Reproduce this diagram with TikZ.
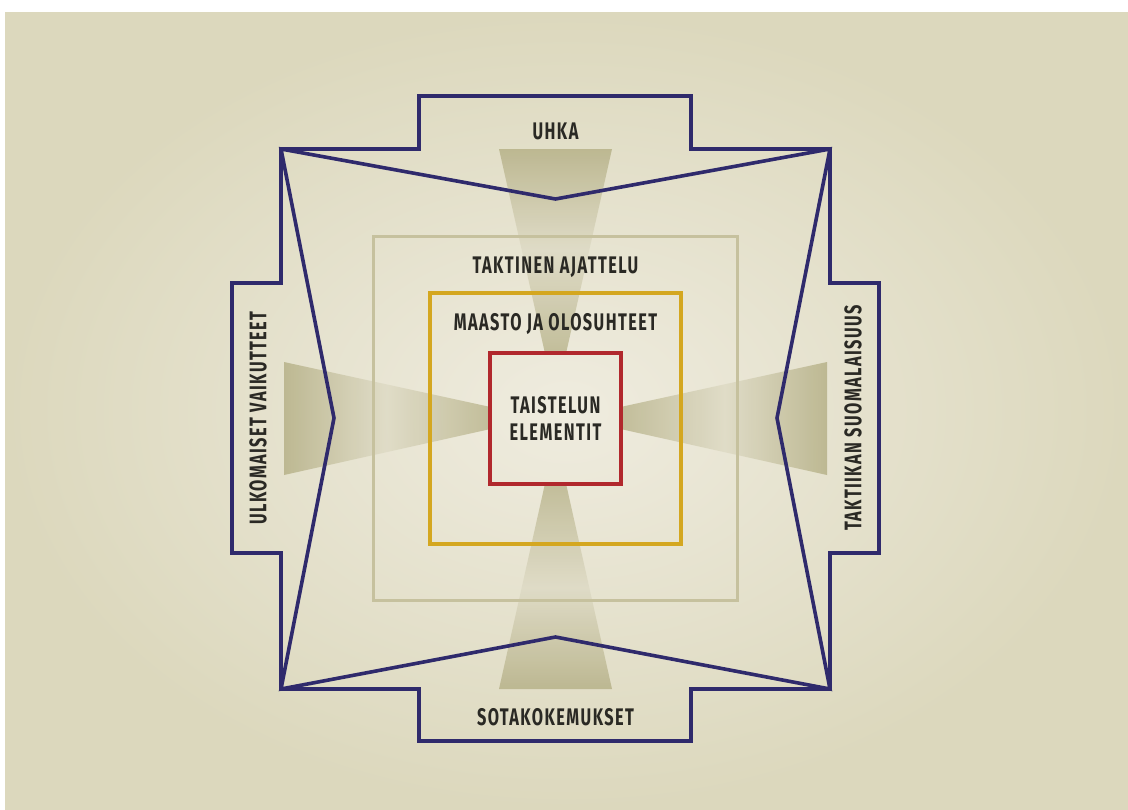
\documentclass[tikz,border=0pt]{standalone}
\usepackage{fontspec}
\setmainfont{Fira Sans}[FakeStretch=0.68, LetterSpace=6]
\usetikzlibrary{calc, backgrounds, positioning}
\definecolor{bgout}{HTML}{DCD8BD}
\definecolor{bgin}{HTML}{EFECDF}
\definecolor{navy}{HTML}{2F2A6C}
\definecolor{gold}{HTML}{D4A720}
\definecolor{crimson}{HTML}{B1282D}
\definecolor{sand}{HTML}{C6C19E}
\definecolor{cone}{HTML}{B9B48C}
\definecolor{ink}{HTML}{2A2924}
\tikzset{
  label text/.style={text=ink, font=\fontsize{12}{13.5}\selectfont\bfseries, align=center, inner sep=1pt},
  frame/.style={draw=navy, line width=1.8pt, line join=miter},
  box/.style={line width=1.8pt, minimum size=#1, inner sep=0pt}
}

\begin{document}
\begin{tikzpicture}[x=0.5pt, y=-0.5pt]
		\useasboundingbox (0,0) rectangle (1128,809);
		
		\node(core) [box=65.5pt, draw=crimson, label text] at (555.5,418.5) {TAISTELUN\\ELEMENTIT};
		\node(terrain) [box=125.5pt, draw=gold] at (555.5,418.5) {};
		\node(thinking) [box=182pt, draw=sand, line width=1.5pt] at (555.5,418.5) {};
		\node(terrainlbl) [label text] at ($(terrain.north)+(0,33)$) {MAASTO JA OLOSUHTEET};
		\node(thinkinglbl) [label text] at ($(thinking.north)+(0,32)$) {TAKTINEN AJATTELU};
		
		\coordinate (tl) at (281,149);
		\coordinate (tr) at (830,149);
		\coordinate (bl) at (281,689);
		\coordinate (br) at (830,689);
		\coordinate (vt) at (555.5,199);
		\coordinate (vb) at (555.5,637);
		\coordinate (vl) at (334,418);
		\coordinate (vr) at (777,418);
		
		\node(threat) [label text] at (555.5,131) {UHKA};
		\node(warexp) [label text] at (555.5,717) {SOTAKOKEMUKSET};
		\node(foreign) [label text, rotate=90] at (258,418) {ULKOMAISET VAIKUTTEET};
		\node(finnish) [label text, rotate=90] at (853,418) {TAKTIIKAN SUOMALAISUUS};
		
		\begin{scope}[on background layer]
		\fill[white] (0,0) rectangle (1128,809);
		\fill[inner color=bgin, outer color=bgout] (5,12) rectangle (1128,809);
		\shade[left color=cone, right color=cone!90!bgin, middle color=cone!30!bgin, opacity=0.9]
			(284,362) -- ($(core.west)+(0,-12)$) -- ($(core.west)+(0,11)$) -- (284,475) -- cycle;
		\shade[left color=cone!90!bgin, right color=cone, middle color=cone!30!bgin, opacity=0.9]
			(827,362) -- ($(core.east)+(0,-12)$) -- ($(core.east)+(0,11)$) -- (827,475) -- cycle;
		\shade[top color=cone, bottom color=cone!90!bgin, middle color=cone!30!bgin, opacity=0.9]
			(499,149) -- (612,149) -- ($(core.north)+(11,0)$) -- ($(core.north)+(-11,0)$) -- cycle;
		\shade[top color=cone!90!bgin, bottom color=cone, middle color=cone!30!bgin, opacity=0.9]
			(499,689) -- (612,689) -- ($(core.south)+(11,0)$) -- ($(core.south)+(-11,0)$) -- cycle;
		\end{scope}
		
		\draw[frame] (tl) -- (419,149) -- (419,96) -- (691,96) -- (691,149) -- (tr)
			-- (830,283) -- (879,283) -- (879,553) -- (830,553) -- (br)
			-- (691,689) -- (691,741) -- (419,741) -- (419,689) -- (bl)
			-- (281,553) -- (232,553) -- (232,283) -- (281,283) -- cycle;
		\draw[frame] (tl) -- (vt) -- (tr) -- (vr) -- (br) -- (vb) -- (bl) -- (vl) -- cycle;
\end{tikzpicture}
\end{document}
